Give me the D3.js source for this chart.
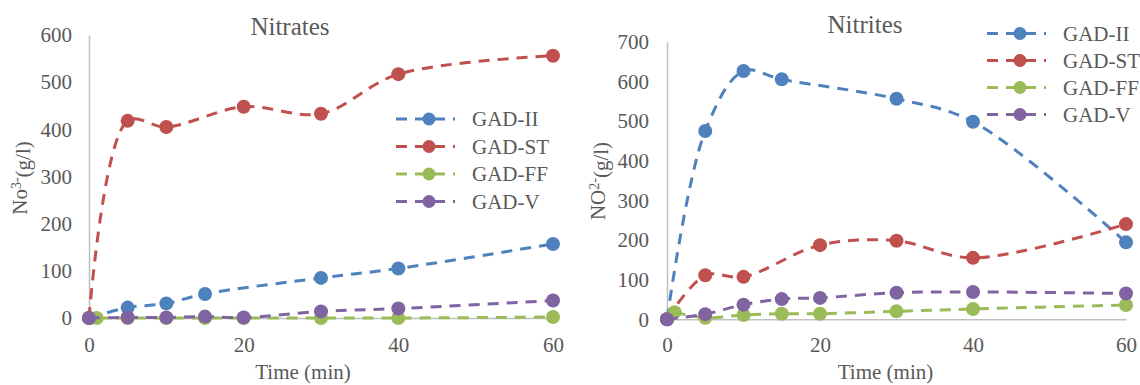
<!DOCTYPE html>
<html>
<head>
<meta charset="utf-8">
<script src="https://cdn.jsdelivr.net/npm/d3@7"></script>
<style>
  html, body { margin: 0; padding: 0; background: #fff; }
  svg { display: block; }
  svg text { font-family: "Liberation Serif", "Times New Roman", serif; }
</style>
</head>
<body>
<svg id="chart" width="1140" height="385"></svg>
<script>
// Series names and colours (shared by both panels)
const seriesNames = ["GAD-II", "GAD-ST", "GAD-FF", "GAD-V"];
const seriesColors = ["#4F81BD", "#C0504D", "#9BBB59", "#8064A2"];

// Nitrates panel: sampling times (min) and concentrations per series
const nitrateTimesII = [0, 5, 10, 15, 30, 40, 60];
const nitrateII      = [0, 22, 31, 51, 85, 105, 157];
const nitrateTimesST = [0, 5, 10, 20, 30, 40, 60];
const nitrateST      = [0, 418, 405, 448, 433, 517, 556];
const nitrateTimesFF = [1, 5, 10, 15, 20, 30, 40, 60];
const nitrateFF      = [0, 0, 0, 0, 0, 0, 0, 2];
const nitrateTimesV  = [0, 5, 10, 15, 20, 30, 40, 60];
const nitrateV       = [0, 1, 1, 3, 1, 14, 20, 37];

// Nitrites panel
const nitriteTimesII = [0, 5, 10, 15, 30, 40, 60];
const nitriteII      = [0, 475, 626, 605, 556, 498, 194];
const nitriteTimesST = [0, 5, 10, 20, 30, 40, 60];
const nitriteST      = [0, 111, 107, 187, 198, 155, 240];
const nitriteTimesFF = [1, 5, 10, 15, 20, 30, 40, 60];
const nitriteFF      = [18, 4, 11, 14, 14, 20, 26, 36];
const nitriteTimesV  = [0, 5, 10, 15, 20, 30, 40, 60];
const nitriteV       = [0, 13, 37, 51, 54, 67, 69, 65];

// Axis ticks
const xTicks = [0, 20, 40, 60];
const nitrateYTicks = [0, 100, 200, 300, 400, 500, 600];
const nitriteYTicks = [0, 100, 200, 300, 400, 500, 600, 700];

const svg = d3.select("#chart");
const textColor = "#595959";
const axisColor = "#BFBFBF";
const serif = "'Liberation Serif', 'Times New Roman', serif";
const markerR = 7;

function zipSeries(times, values) {
  return times.map((t, i) => ({ t, v: values[i] }));
}

function styleAxis(sel) {
  sel.attr("font-family", serif).attr("font-size", 21);
  sel.select(".domain").attr("stroke", axisColor).attr("stroke-width", 1.5);
  sel.selectAll("text").attr("fill", textColor);
}

function drawPanel(cfg) {
  const x = d3.scaleLinear().domain([0, 60]).range([cfg.left, cfg.right]);
  const y = d3.scaleLinear().domain([0, cfg.yMax]).range([cfg.bottom, cfg.top]);
  const g = svg.append("g");

  // Value axis
  g.append("g")
    .attr("transform", `translate(${cfg.left},0)`)
    .call(d3.axisLeft(y).tickValues(cfg.yTicks).tickSize(0).tickSizeOuter(0).tickPadding(cfg.yPad))
    .call(styleAxis);

  // Time axis along zero
  g.append("g")
    .attr("transform", `translate(0,${y(0)})`)
    .call(d3.axisBottom(x).tickValues(xTicks).tickSize(0).tickSizeOuter(0).tickPadding(cfg.xPad))
    .call(styleAxis);

  // Series: smoothed dashed lines with circle markers
  const line = d3.line()
    .x(d => x(d.t)).y(d => y(d.v))
    .curve(d3.curveCatmullRom.alpha(0.5));

  cfg.series.forEach((s, i) => {
    const pts = zipSeries(s.times, s.values);
    const sg = g.append("g");
    sg.append("path")
      .datum(pts)
      .attr("d", line)
      .attr("fill", "none")
      .attr("stroke", seriesColors[i])
      .attr("stroke-width", 3)
      .attr("stroke-dasharray", "11,8");
    sg.selectAll("circle")
      .data(pts)
      .join("circle")
      .attr("cx", d => x(d.t))
      .attr("cy", d => y(d.v))
      .attr("r", markerR)
      .attr("fill", seriesColors[i]);
  });

  // Title
  g.append("text")
    .attr("x", cfg.titleX).attr("y", cfg.titleY)
    .attr("text-anchor", "middle")
    .attr("fill", textColor)
    .attr("font-size", 25)
    .text(cfg.title);

  // Axis titles
  g.append("text")
    .attr("x", (cfg.left + cfg.right) / 2 + cfg.xTitleShift).attr("y", 379)
    .attr("text-anchor", "middle")
    .attr("fill", textColor)
    .attr("font-size", 21)
    .text("Time (min)");

  const yt = g.append("text")
    .attr("transform", `translate(${cfg.yTitleX},${cfg.yTitleY}) rotate(-90)`)
    .attr("text-anchor", "middle")
    .attr("fill", textColor)
    .attr("font-size", 21);
  yt.append("tspan").text(cfg.yLabelMain);
  yt.append("tspan").attr("dy", "-0.45em").attr("font-size", 14).text(cfg.yLabelSup);
  yt.append("tspan").attr("dy", "0.45em").text("(g/l)");

  // Legend
  const lg = g.append("g");
  seriesNames.forEach((name, i) => {
    const ly = cfg.legendY + i * cfg.legendStep;
    lg.append("line")
      .attr("x1", cfg.legendX).attr("x2", cfg.legendX + 59)
      .attr("y1", ly).attr("y2", ly)
      .attr("stroke", seriesColors[i])
      .attr("stroke-width", 3)
      .attr("stroke-dasharray", "11,8");
    lg.append("circle")
      .attr("cx", cfg.legendX + 33).attr("cy", ly)
      .attr("r", 6.5)
      .attr("fill", seriesColors[i]);
    lg.append("text")
      .attr("x", cfg.legendX + 76).attr("y", ly)
      .attr("dy", "0.35em")
      .attr("fill", textColor)
      .attr("font-size", 21)
      .text(name);
  });
}

drawPanel({
  title: "Nitrates", titleX: 290, titleY: 35,
  left: 89, right: 553, top: 35, bottom: 318, yMax: 600,
  yTicks: nitrateYTicks, yPad: 17, xPad: 19, xTitleShift: -18,
  yTitleX: 27, yTitleY: 178, yLabelMain: "No", yLabelSup: "3-",
  legendX: 396, legendY: 119, legendStep: 27.5,
  series: [
    { times: nitrateTimesII, values: nitrateII },
    { times: nitrateTimesST, values: nitrateST },
    { times: nitrateTimesFF, values: nitrateFF },
    { times: nitrateTimesV,  values: nitrateV }
  ]
});

drawPanel({
  title: "Nitrites", titleX: 865, titleY: 33,
  left: 667, right: 1126, top: 41.7, bottom: 319.3, yMax: 700,
  yTicks: nitriteYTicks, yPad: 18, xPad: 18, xTitleShift: -11,
  yTitleX: 605, yTitleY: 181, yLabelMain: "NO", yLabelSup: "2-",
  legendX: 987, legendY: 33.5, legendStep: 27,
  series: [
    { times: nitriteTimesII, values: nitriteII },
    { times: nitriteTimesST, values: nitriteST },
    { times: nitriteTimesFF, values: nitriteFF },
    { times: nitriteTimesV,  values: nitriteV }
  ]
});
</script>
</body>
</html>
